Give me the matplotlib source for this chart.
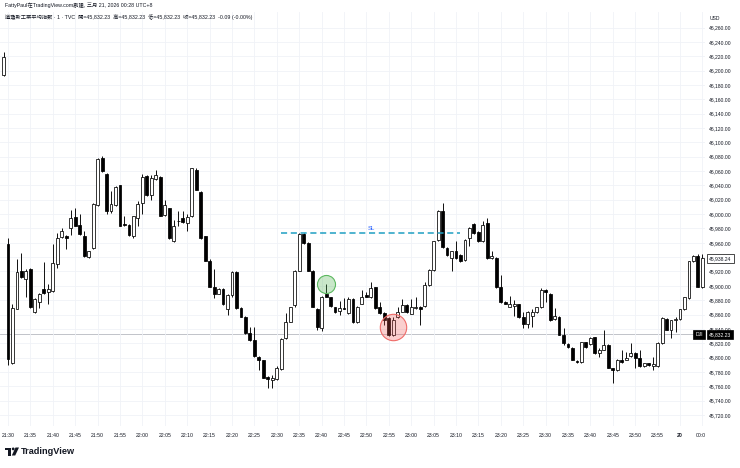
import numpy as np
import matplotlib.pyplot as plt
from matplotlib.patches import Rectangle, Polygon, Circle

plt.rcParams['font.family'] = ['Liberation Sans', 'Noto Sans CJK TC', 'DejaVu Sans']

# 1-minute DJI bars, first one is 21:29 (previous session), minute 0 = 21:30
opens = [46194, 45958, 45792, 45868, 45920, 45910, 45924, 45864, 45878, 45896,
         45891, 45893, 45931, 45968, 45970, 45980, 45996, 45985, 45969, 45940,
         45953, 46013, 46078, 46056, 46005, 46013, 46040, 45986, 45985, 45970,
         45995, 46015, 46053, 46026, 46049, 46052, 45999, 46008, 45962, 45991,
         45994, 45988, 45997, 46062, 46031, 45969, 45935, 45898, 45889, 45896,
         45868, 45887, 45919, 45869, 45857, 45834, 45825, 45801, 45796, 45773,
         45768, 45770, 45784, 45827, 45850, 45873, 45921, 45972, 45960, 45921,
         45868, 45841, 45888, 45884, 45870, 45865, 45869, 45862, 45882, 45849,
         45874, 45887, 45884, 45898, 45870, 45862, 45855, 45831, 45856, 45864,
         45873, 45861, 45869, 45871, 45872, 45901, 45922, 45964, 46005, 45953,
         45939, 45948, 45943, 45936, 45967, 45986, 45975, 45962, 45988, 45939,
         45939, 45898, 45878, 45871, 45872, 45874, 45856, 45847, 45858, 45863,
         45870, 45894, 45889, 45854, 45857, 45832, 45819, 45813, 45795, 45794,
         45821, 45819, 45828, 45806, 45811, 45818, 45785, 45782, 45797, 45797,
         45802, 45807, 45800, 45788, 45792, 45788, 45788, 45820, 45854, 45839,
         45852, 45854, 45867, 45883, 45934, 45941, 45899]
highs = [46226, 45967, 45875, 45937, 45946, 45924, 45925, 45883, 45890, 45933,
         45902, 45958, 45974, 45981, 45971, 46006, 46009, 46000, 45977, 45949,
         46016, 46078, 46081, 46057, 46032, 46039, 46041, 45997, 45986, 45998,
         46018, 46056, 46054, 46055, 46061, 46053, 46020, 46009, 45992, 46004,
         46004, 46000, 46065, 46064, 46032, 45970, 45937, 45923, 45897, 45897,
         45888, 45920, 45920, 45870, 45858, 45843, 45843, 45802, 45797, 45774,
         45776, 45788, 45827, 45862, 45871, 45922, 45974, 45974, 45961, 45922,
         45869, 45886, 45902, 45885, 45871, 45879, 45883, 45884, 45883, 45872,
         45894, 45892, 45905, 45899, 45877, 45863, 45856, 45857, 45871, 45882,
         45874, 45881, 45885, 45872, 45905, 45923, 45963, 46006, 46015, 45954,
         45949, 45962, 45944, 45965, 45982, 45988, 45977, 45990, 45994, 45948,
         45940, 45915, 45879, 45886, 45880, 45875, 45863, 45865, 45867, 45871,
         45897, 45895, 45890, 45869, 45858, 45841, 45820, 45814, 45797, 45822,
         45822, 45829, 45829, 45813, 45838, 45819, 45786, 45798, 45811, 45808,
         45820, 45808, 45811, 45793, 45793, 45801, 45821, 45857, 45855, 45853,
         45857, 45868, 45885, 45935, 45943, 45945, 45944]
lows = [46192, 45790, 45791, 45867, 45911, 45884, 45869, 45862, 45869, 45889,
        45874, 45892, 45925, 45967, 45951, 45971, 45983, 45971, 45940, 45939,
        45952, 46012, 46059, 46000, 46002, 46012, 45983, 45983, 45970, 45967,
        45983, 46000, 46025, 46020, 46048, 45997, 45998, 45965, 45961, 45983,
        45988, 45977, 45996, 46033, 45965, 45934, 45898, 45883, 45888, 45873,
        45860, 45885, 45868, 45856, 45833, 45823, 45801, 45783, 45771, 45758,
        45758, 45769, 45783, 45826, 45849, 45871, 45920, 45958, 45920, 45870,
        45839, 45837, 45884, 45871, 45862, 45860, 45867, 45861, 45848, 45848,
        45874, 45884, 45883, 45868, 45861, 45846, 45830, 45830, 45855, 45863,
        45862, 45861, 45868, 45845, 45871, 45900, 45921, 45963, 45953, 45942,
        45920, 45938, 45933, 45935, 45955, 45972, 45961, 45961, 45938, 45938,
        45897, 45876, 45874, 45870, 45858, 45855, 45841, 45841, 45842, 45862,
        45869, 45878, 45851, 45853, 45831, 45818, 45813, 45796, 45792, 45793,
        45813, 45818, 45805, 45801, 45810, 45785, 45764, 45781, 45793, 45796,
        45801, 45785, 45787, 45787, 45788, 45783, 45787, 45819, 45838, 45827,
        45836, 45853, 45866, 45882, 45933, 45898, 45897]
closes = [46219, 45798, 45869, 45919, 45912, 45920, 45870, 45881, 45888, 45890,
          45895, 45932, 45967, 45976, 45966, 45995, 45984, 45972, 45941, 45948,
          46014, 46077, 46060, 46005, 46014, 46038, 45984, 45985, 45971, 45997,
          46014, 46052, 46026, 46051, 46055, 45998, 46013, 45966, 45984, 45990,
          45989, 45996, 46064, 46034, 45966, 45935, 45899, 45889, 45896, 45874,
          45887, 45919, 45869, 45857, 45834, 45825, 45802, 45797, 45772, 45770,
          45772, 45786, 45826, 45850, 45870, 45921, 45972, 45960, 45921, 45871,
          45842, 45885, 45885, 45872, 45863, 45869, 45868, 45882, 45849, 45871,
          45884, 45885, 45897, 45869, 45862, 45853, 45831, 45853, 45863, 45873,
          45863, 45871, 45871, 45867, 45901, 45922, 45962, 46005, 45954, 45943,
          45948, 45939, 45934, 45964, 45981, 45974, 45962, 45985, 45939, 45942,
          45898, 45877, 45875, 45874, 45875, 45856, 45847, 45864, 45863, 45870,
          45894, 45891, 45852, 45858, 45832, 45820, 45814, 45797, 45794, 45821,
          45814, 45827, 45806, 45811, 45818, 45786, 45782, 45796, 45794, 45800,
          45806, 45800, 45788, 45792, 45790, 45791, 45820, 45855, 45839, 45852,
          45854, 45867, 45884, 45934, 45941, 45899, 45938.24]
minutes = np.arange(-1, len(opens) - 1)

tick_minutes = list(range(0, 156, 5))
tick_labels = ['21:30', '21:35', '21:40', '21:45', '21:50', '21:55', '22:00', '22:05',
               '22:10', '22:15', '22:20', '22:25', '22:30', '22:35', '22:40', '22:45',
               '22:50', '22:55', '23:00', '23:05', '23:10', '23:15', '23:20', '23:25',
               '23:30', '23:35', '23:40', '23:45', '23:50', '23:55', '20', '00:05']
price_ticks = np.arange(45720, 46261, 20)

ref_price = 45832.23
last_price = 45938.24
sl_price = 45973
sl_span = (61, 101)
sl_label_at = 81
green_mark = (71, 45903)
red_mark = (86, 45842)

W, H = 740, 468
fig = plt.figure(figsize=(W / 100, H / 100), dpi=100)
fig.patch.set_facecolor('white')
ax = fig.add_axes([0, 1 - 426 / H, 705 / W, (426 - 12) / H])

# candles
for m, o, h, l, c in zip(minutes, opens, highs, lows, closes):
    ax.vlines(m, l, h, color='black', lw=0.65, zorder=2)
    up = c >= o
    ax.bar(m, max(abs(c - o), 1.0), bottom=min(o, c), width=0.64,
           color='white' if up else 'black', edgecolor='black', lw=0.55, zorder=3)

ax.axhline(ref_price, color='#b7b9c0', lw=0.6, zorder=1)

# SL line
ax.hlines(sl_price, *sl_span, colors='#1f9fc2', linestyles=(0, (4, 2.4)), lw=1.1, zorder=4)
ax.text(sl_label_at, sl_price + 4, 'SL', ha='center', va='bottom', color='#2962ff', fontsize=4.2)

# markers
ax.plot(*green_mark, 'o', ms=13, mfc=(0.30, 0.69, 0.31, 0.30), mec='#5cb860', mew=0.8, zorder=5)
ax.plot(*red_mark, 'o', ms=19, mfc=(0.94, 0.33, 0.31, 0.28), mec='#ef6b68', mew=0.8, zorder=5)

ax.set_xlim(-8 / 4.48, (705 - 8) / 4.48)
ax.set_ylim(46260 - (426 - 27.7) / 0.717, 46260 + (27.7 - 12) / 0.717)

for s in ax.spines.values():
    s.set_visible(False)
ax.set_xticks(tick_minutes)
ax.set_xticklabels(tick_labels)
for lab in ax.get_xticklabels():
    if lab.get_text() == '20':
        lab.set_fontweight('bold')
ax.set_yticks(price_ticks)
ax.set_yticklabels([f'{v:,.2f}' for v in price_ticks])
ax.yaxis.tick_right()
ax.tick_params(axis='x', length=0, pad=5, labelsize=3.7, labelcolor='#131722')
ax.tick_params(axis='y', length=0, pad=2.9, labelsize=3.6, labelcolor='#131722')
ax.grid(True, color='#f0f2f7', lw=0.6, zorder=0)

# price labels on the scale
ytr = ax.get_yaxis_transform()
ax.text(1.0057, last_price, f'{last_price:,.2f}', transform=ytr, ha='left', va='center',
        fontsize=3.6, color='#131722', clip_on=False, zorder=10,
        bbox=dict(boxstyle='square,pad=0.45', fc='white', ec='black', lw=0.5))
ax.text(1.0057, ref_price, f'{ref_price:,.2f}', transform=ytr, ha='left', va='center',
        fontsize=3.6, color='white', clip_on=False, zorder=10,
        bbox=dict(boxstyle='square,pad=0.45', fc='black', ec='black', lw=0.5))
ax.text(0.9915, ref_price, 'DJI', transform=ytr, ha='center', va='center',
        fontsize=3.6, color='white', clip_on=False, zorder=10,
        bbox=dict(boxstyle='square,pad=0.45', fc='black', ec='black', lw=0.5))

# hide the part of the time labels under the price scale
fig.add_artist(Rectangle((705 / W, 0), 35 / W, 1 - 428 / H, transform=fig.transFigure,
                         fc='white', ec='none', zorder=20))

fig.text(710 / W, 1 - 18 / H, 'USD', fontsize=3.6, color='#131722', va='center')

fig.text(5 / W, 1 - 5 / H, 'FattyPaul在TradingView.com創建, 三月 21, 2026 00:28 UTC+8',
         fontsize=3.8, color='#131722', va='center')
fig.text(5 / W, 1 - 17 / H,
         '道瓊斯工業平均指數 · 1 · TVC  開=45,832.23  高=45,832.23  低=45,832.23  收=45,832.23  -0.09 (-0.00%)',
         fontsize=3.8, color='#131722', va='center')

# TradingView logo
lax = fig.add_axes([4 / W, 1 - 457 / H, 16 / W, 11 / H])
lax.set_xlim(0, 16)
lax.set_ylim(11, 0)
lax.axis('off')
lax.add_patch(Polygon([(1, 1.5), (7, 1.5), (7, 9.5), (4.3, 9.5), (4.3, 4.2), (1, 4.2)],
                      closed=True, fc='#131722', ec='none'))
lax.add_patch(Circle((9.2, 2.9), 1.4, fc='#131722', ec='none'))
lax.add_patch(Polygon([(11.5, 1.5), (15, 1.5), (11.2, 9.5), (7.8, 9.5)],
                      closed=True, fc='#131722', ec='none'))
fig.text(21 / W, 1 - 451 / H, 'TradingView', fontsize=6.6, fontweight='bold',
         color='#131722', va='center')

fig.savefig('out.png', dpi=100)
